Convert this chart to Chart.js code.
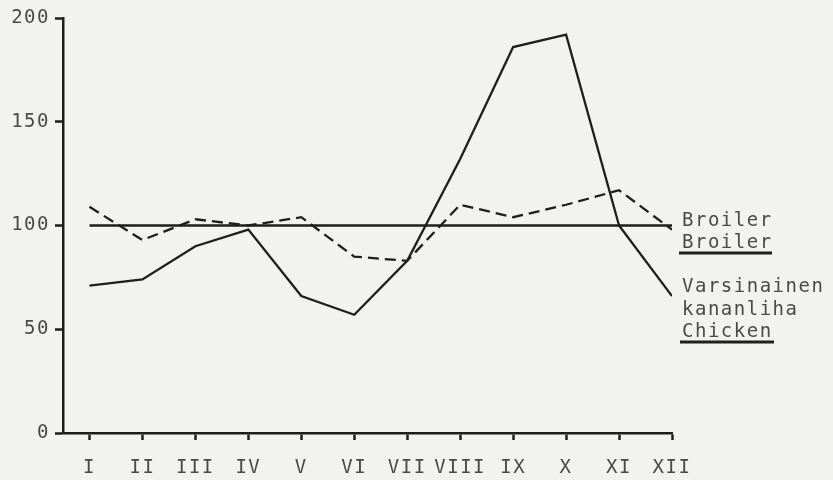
<!DOCTYPE html>
<html>
<head>
<meta charset="utf-8">
<script src="https://cdn.jsdelivr.net/npm/chart.js@4/dist/chart.umd.min.js"></script>
<style>
  html, body { margin: 0; padding: 0; background: #f2f2f0; }
  #wrap { width: 833px; height: 480px; }
</style>
</head>
<body>
<div id="wrap"><canvas id="grafico"></canvas></div>
<script>
// datos
var kuukaudet = ['I', 'II', 'III', 'IV', 'V', 'VI', 'VII', 'VIII', 'IX', 'X', 'XI', 'XII'];
var broiler = [109, 93, 103, 100, 104, 85, 83, 110, 104, 110, 117, 98];
var kananliha = [71, 74, 90, 98, 66, 57, 83, 132, 186, 192, 100, 66];
var perustaso = [100, 100, 100, 100, 100, 100, 100, 100, 100, 100, 100, 100];
var yTicks = [0, 50, 100, 150, 200];

var tinta = '#1e1e1e';
var gris = '#4a4a4a';
var fuente = 'DejaVu Sans Mono';

function puntos(serie) {
  return serie.map(function (v, i) { return { x: i + 1, y: v }; });
}

// leyenda a la derecha, texto con subrayado
var leyenda = {
  id: 'leyenda',
  beforeDraw: function (chart) {
    chart.ctx.letterSpacing = '1.5px';
  },
  afterDraw: function (chart) {
    var ctx = chart.ctx;
    var x = chart.chartArea.right + 10;
    ctx.save();
    ctx.letterSpacing = '1.5px';
    ctx.font = '19px "' + fuente + '"';
    ctx.fillStyle = gris;
    ctx.textAlign = 'left';
    ctx.textBaseline = 'alphabetic';
    ctx.fillText('Broiler', x, 226);
    ctx.fillText('Broiler', x, 248);
    ctx.fillText('Varsinainen', x, 292);
    ctx.fillText('kananliha', x, 315);
    ctx.fillText('Chicken', x, 337);
    ctx.strokeStyle = tinta;
    ctx.lineWidth = 3;
    ctx.beginPath();
    ctx.moveTo(x - 3, 253); ctx.lineTo(x + 90, 253);
    ctx.moveTo(x - 2, 342); ctx.lineTo(x + 92, 342);
    ctx.stroke();
    ctx.restore();
  }
};

var ctx = document.getElementById('grafico').getContext('2d');
var grafico = new Chart(ctx, {
  type: 'line',
  data: {
    datasets: [
      {
        label: 'Broiler',
        data: puntos(broiler),
        borderColor: tinta,
        borderWidth: 2.3,
        borderDash: [11, 6],
        pointRadius: 0,
        tension: 0,
      },
      {
        label: 'Varsinainen kananliha',
        data: puntos(kananliha),
        borderColor: tinta,
        borderWidth: 2.3,
        pointRadius: 0,
        tension: 0,
      },
      {
        label: '100',
        data: puntos(perustaso),
        borderColor: tinta,
        borderWidth: 2.3,
        pointRadius: 0,
        tension: 0,
      },
    ],
  },
  options: {
    responsive: true,
    maintainAspectRatio: false,
    animation: false,
    layout: { padding: { top: 18, right: 161, bottom: 0, left: 0 } },
    plugins: {
      legend: { display: false },
      tooltip: { enabled: false },
    },
    scales: {
      x: {
        type: 'linear',
        min: 0.5,
        max: 12,
        afterBuildTicks: function (axis) {
          axis.ticks = kuukaudet.map(function (m, i) { return { value: i + 1 }; });
        },
        afterFit: function (axis) { axis.height = 47; },
        border: { display: true, color: tinta, width: 2.5 },
        grid: { drawOnChartArea: false, drawTicks: true, tickLength: 7, tickWidth: 2.5, tickColor: tinta },
        ticks: {
          autoSkip: false,
          maxRotation: 0,
          padding: 17,
          color: gris,
          font: { family: fuente, size: 19 },
          callback: function (v) { return kuukaudet[Math.round(v) - 1] || ''; },
        },
      },
      y: {
        min: 0,
        max: 200,
        afterBuildTicks: function (axis) {
          axis.ticks = yTicks.map(function (v) { return { value: v }; });
        },
        afterFit: function (axis) { axis.width = 63; },
        border: { display: true, color: tinta, width: 2.5 },
        grid: { drawOnChartArea: false, drawTicks: true, tickLength: 8, tickWidth: 2.5, tickColor: tinta },
        ticks: {
          padding: 5,
          color: gris,
          font: { family: fuente, size: 19 },
        },
      },
    },
  },
  plugins: [leyenda],
});
</script>
</body>
</html>
